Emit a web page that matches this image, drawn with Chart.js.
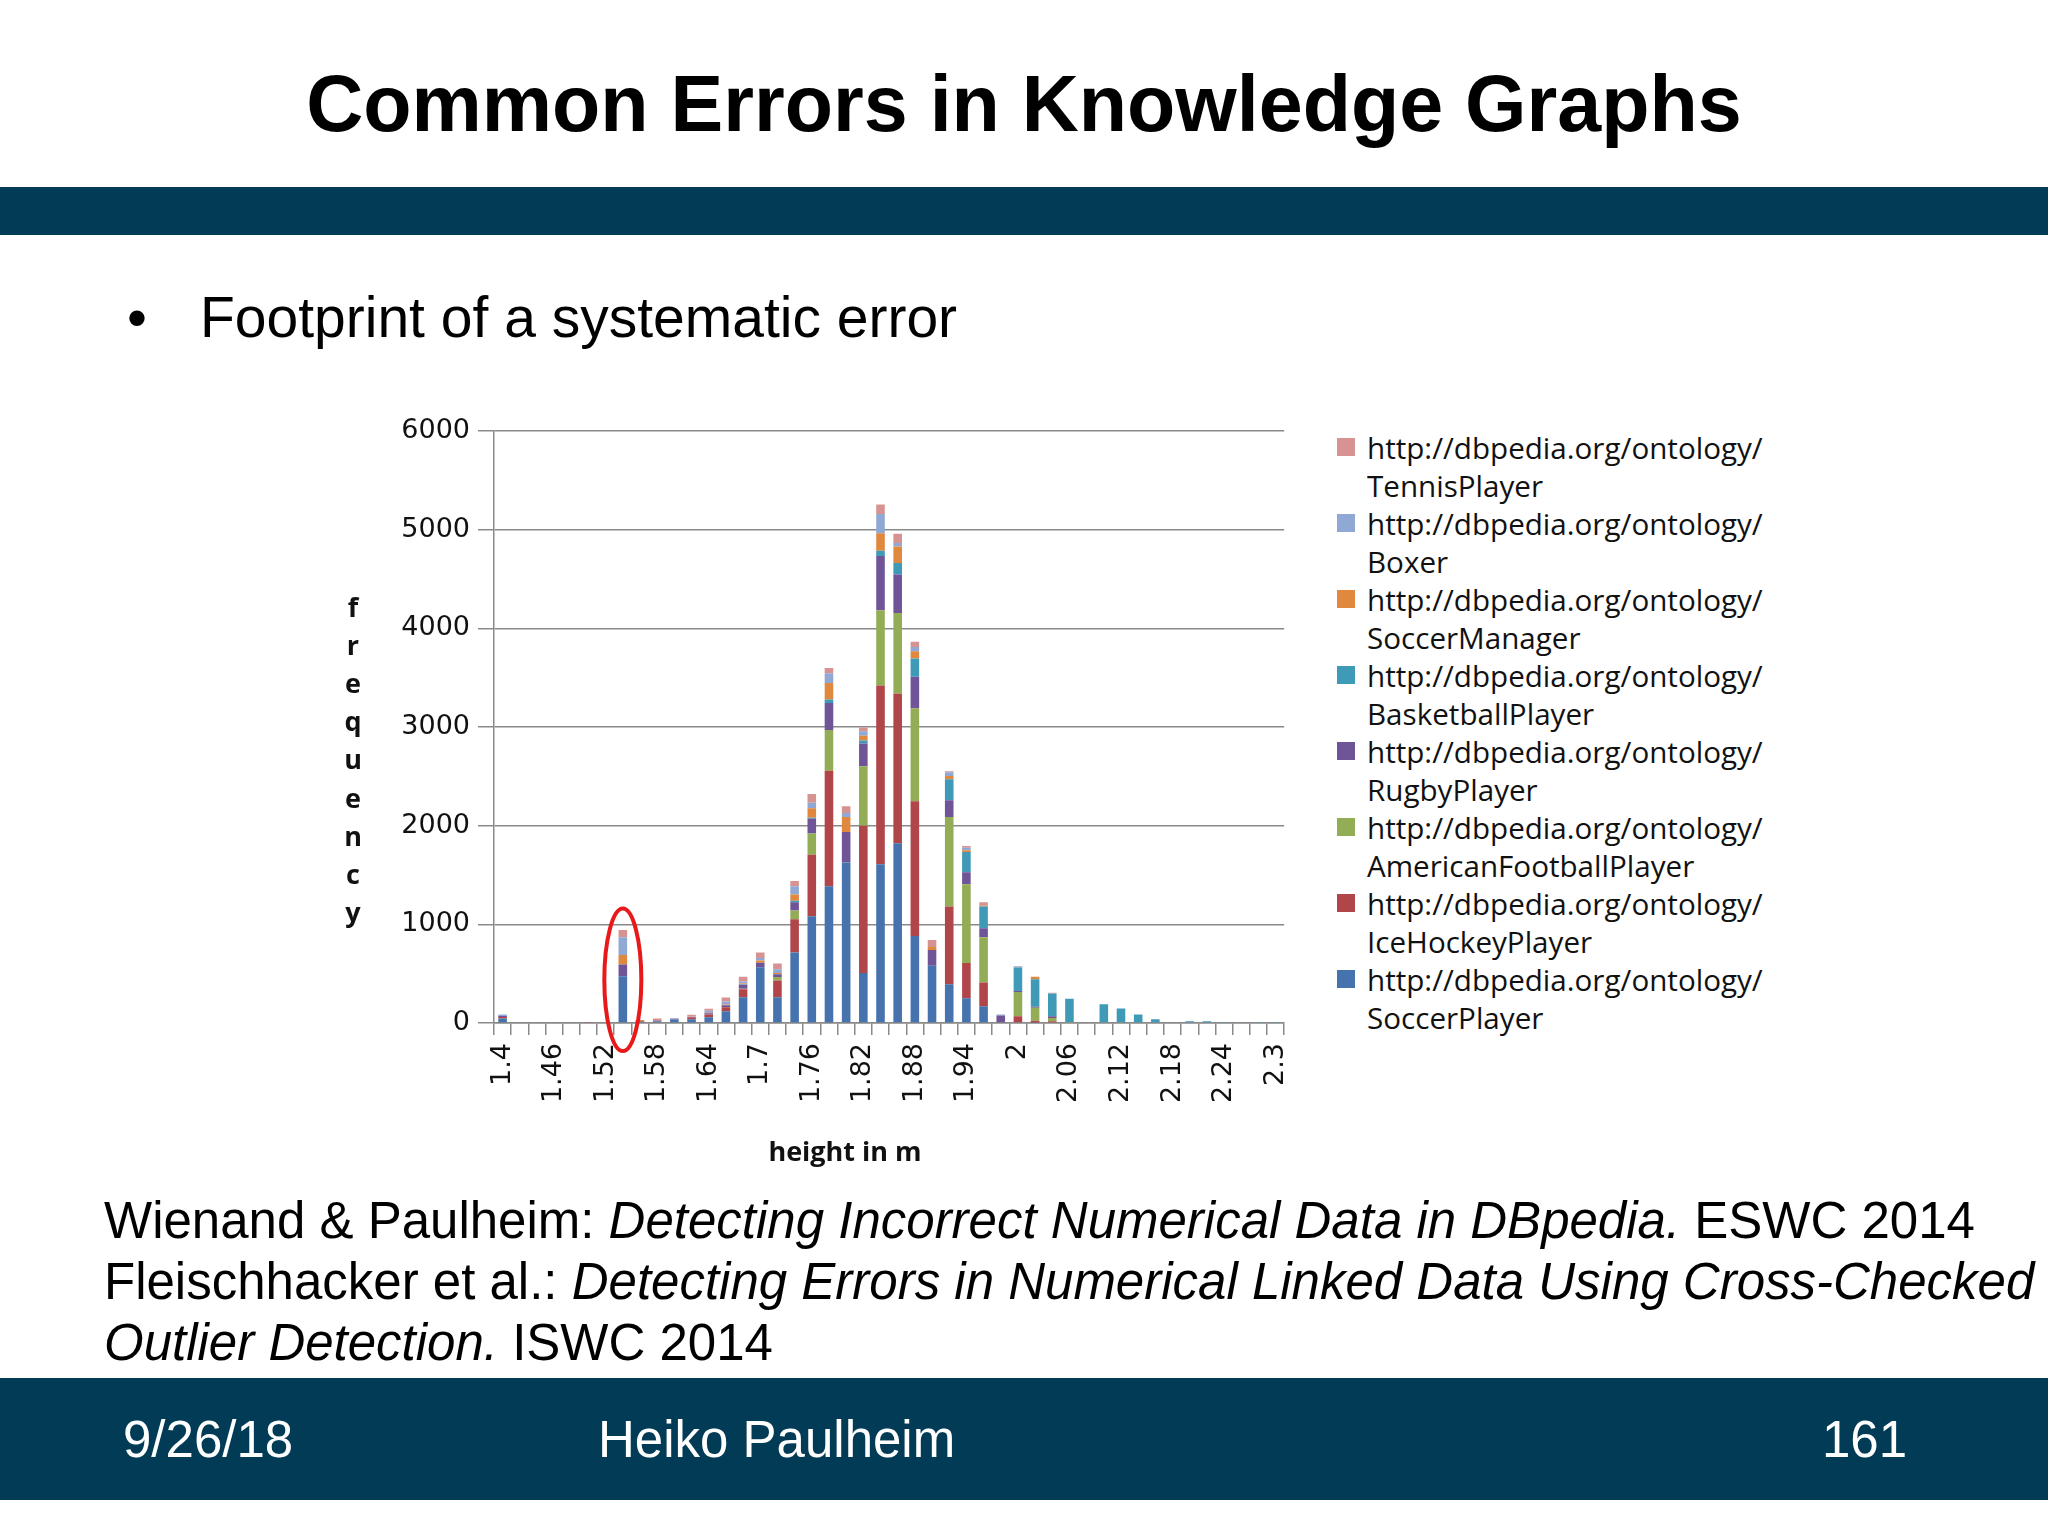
<!DOCTYPE html>
<html>
<head>
<meta charset="utf-8">
<title>Common Errors in Knowledge Graphs</title>
<script src="https://cdn.jsdelivr.net/npm/chart.js@4.4.1/dist/chart.umd.min.js"></script>
<style>
  body { margin: 0; background: #ffffff; }
  #slide { position: relative; width: 2048px; height: 1536px; background: #ffffff; overflow: hidden; font-family: "Liberation Sans", Arial, sans-serif; color: #000; }
  .abs { position: absolute; white-space: nowrap; line-height: 1; }
  #title { left: 0; width: 2048px; top: 64px; text-align: center; font-size: 79px; font-weight: bold; }
  .band { position: absolute; left: 0; width: 2048px; background: #023b56; }
  #bullet { left: 127px; top: 289px; font-size: 57px; }
  #bulletText { left: 200px; top: 289px; font-size: 57px; }
  #refs { left: 104px; top: 1190px; font-size: 51px; line-height: 61px; }
  .foot { top: 1414px; font-size: 51px; color: #ffffff; }
  #chartBox { position: absolute; left: 330px; top: 400px; width: 986px; height: 780px; }
  #legend { position: absolute; left: 1337px; top: 429px; font-family: "Open Sans", sans-serif; font-size: 29.6px; line-height: 38px; color: #111; white-space: nowrap; }
  .legend-item { position: relative; padding-left: 30px; height: 76px; }
  .swatch { position: absolute; left: 0; top: 9px; width: 18px; height: 18px; }
</style>
</head>
<body>
<div id="slide">
  <div id="title" class="abs">Common Errors in Knowledge Graphs</div>
  <div class="band" style="top:187px;height:48px;"></div>
  <div id="bullet" class="abs">&bull;</div>
  <div id="bulletText" class="abs">Footprint of a systematic error</div>

  <div id="chartBox"><canvas id="chart" width="986" height="780"></canvas></div>
  <div id="legend"></div>

  <div id="refs" class="abs">Wienand &amp; Paulheim: <i>Detecting Incorrect Numerical Data in DBpedia.</i> ESWC 2014<br>Fleischhacker et al.: <i>Detecting Errors in Numerical Linked Data Using Cross-Checked</i><br><i>Outlier Detection.</i> ISWC 2014</div>

  <div class="band" style="top:1378px;height:122px;"></div>
  <div class="abs foot" style="left:123px;">9/26/18</div>
  <div class="abs foot" style="left:598px;">Heiko Paulheim</div>
  <div class="abs foot" style="left:1822px;">161</div>
</div>

<script>
// Height bins (m), one bar per bin
var heights = ['1.4', '1.42', '1.44', '1.46', '1.48', '1.5', '1.52', '1.54', '1.56', '1.58',
  '1.6', '1.62', '1.64', '1.66', '1.68', '1.7', '1.72', '1.74', '1.76', '1.78',
  '1.8', '1.82', '1.84', '1.86', '1.88', '1.9', '1.92', '1.94', '1.96', '1.98',
  '2', '2.02', '2.04', '2.06', '2.08', '2.1', '2.12', '2.14', '2.16', '2.18',
  '2.2', '2.22', '2.24', '2.26', '2.28', '2.3'];

// only every third bin gets a label
var labelEvery = 3;

// y axis
var yMax = 6000;
var yStep = 1000;

// frequencies per class (stack order: bottom to top)
var soccerPlayer = [45, 0, 0, 0, 0, 0, 0, 475, 12, 17, 35, 38, 58, 120, 262, 565, 262, 715, 1083, 1385,
  1626, 508, 1609, 1822, 881, 580, 394, 252, 170, 0, 0, 5, 0, 0, 0, 0, 0, 0, 0, 0, 0, 0, 0, 0, 0, 0];
var iceHockeyPlayer = [15, 0, 0, 0, 0, 6, 0, 0, 8, 8, 0, 20, 27, 40, 80, 0, 170, 336, 621, 1172,
  0, 1491, 1811, 1516, 1367, 0, 788, 355, 241, 0, 68, 18, 17, 0, 0, 0, 0, 0, 0, 0, 0, 0, 0, 0, 0, 0];
var americanFootballPlayer = [0, 0, 0, 0, 0, 0, 0, 0, 0, 0, 0, 0, 0, 0, 5, 0, 34, 88, 217, 412,
  0, 604, 763, 817, 941, 0, 906, 799, 458, 0, 247, 132, 34, 10, 0, 0, 0, 0, 0, 0, 0, 0, 0, 0, 0, 0];
var rugbyPlayer = [10, 0, 0, 0, 0, 0, 0, 118, 0, 0, 8, 0, 15, 20, 40, 45, 27, 86, 149, 273,
  309, 231, 550, 391, 320, 160, 170, 121, 92, 75, 10, 10, 17, 0, 0, 0, 0, 0, 0, 0, 0, 0, 0, 0, 0, 0];
var basketballPlayer = [0, 0, 0, 0, 0, 0, 0, 0, 0, 0, 0, 0, 0, 0, 5, 0, 0, 15, 10, 36,
  0, 28, 53, 117, 185, 0, 213, 206, 220, 0, 237, 278, 231, 237, 0, 190, 146, 85, 37, 0, 17, 17, 4, 0, 4, 4];
var soccerManager = [0, 0, 0, 0, 0, 0, 0, 97, 10, 0, 0, 0, 5, 8, 8, 24, 14, 62, 96, 167,
  153, 50, 178, 167, 75, 30, 32, 18, 8, 0, 0, 27, 0, 0, 0, 0, 0, 0, 0, 0, 0, 0, 0, 0, 0, 0];
var boxer = [15, 0, 0, 0, 0, 0, 0, 180, 0, 5, 5, 5, 20, 30, 20, 25, 37, 83, 55, 99,
  40, 46, 195, 36, 43, 0, 39, 25, 0, 10, 10, 0, 0, 0, 0, 0, 0, 0, 0, 0, 0, 0, 0, 0, 0, 0];
var tennisPlayer = [0, 0, 0, 0, 0, 0, 0, 72, 0, 15, 0, 20, 20, 40, 50, 55, 58, 55, 89, 53,
  70, 36, 96, 92, 53, 70, 10, 18, 36, 0, 5, 0, 8, 0, 0, 0, 0, 0, 0, 0, 0, 0, 0, 0, 0, 0];

var classNames = ['SoccerPlayer', 'IceHockeyPlayer', 'AmericanFootballPlayer', 'RugbyPlayer',
  'BasketballPlayer', 'SoccerManager', 'Boxer', 'TennisPlayer'];
var classColors = ['#4672ad', '#b0464a', '#92ad55', '#6f5597', '#3f9ab8', '#e0883e', '#90a9d4', '#d69391'];
var prefix = 'http://dbpedia.org/ontology/';

// the outlier bin that is circled
var circledBin = 7;

var series = [soccerPlayer, iceHockeyPlayer, americanFootballPlayer, rugbyPlayer,
  basketballPlayer, soccerManager, boxer, tennisPlayer];

var datasets = series.map(function (values, i) {
  return {
    label: [prefix, classNames[i]],
    data: values,
    backgroundColor: classColors[i],
    borderWidth: 0,
    barPercentage: 0.5,
    categoryPercentage: 1
  };
});

var axisColor = '#8a8a8a';
var tickFont = { family: 'DejaVu Sans', size: 27 };

// axis titles and the red ellipse are drawn on top of the chart
var extrasPlugin = {
  id: 'extras',
  afterDraw: function (chart) {
    var ctx = chart.ctx;
    var area = chart.chartArea;
    var xs = chart.scales.x;
    var ys = chart.scales.y;

    ctx.save();
    ctx.fillStyle = '#111';
    ctx.font = 'bold 27px "Open Sans"';
    ctx.textAlign = 'center';
    ctx.textBaseline = 'middle';

    // vertical "frequency", one letter per line
    var word = 'frequency';
    for (var i = 0; i < word.length; i++) {
      ctx.fillText(word[i], area.left - 141, area.top + 178 + i * 38.2);
    }

    // x axis title
    ctx.fillText('height in m', area.left + 351, area.bottom + 130);

    // red ellipse round the outlier bar
    var cx = xs.getPixelForValue(circledBin);
    var top = ys.getPixelForValue(1160);
    var bottom = area.bottom + 28;
    ctx.beginPath();
    ctx.ellipse(cx, (top + bottom) / 2, 18.5, (bottom - top) / 2, 0, 0, Math.PI * 2);
    ctx.strokeStyle = '#e8191b';
    ctx.lineWidth = 4;
    ctx.stroke();
    ctx.restore();
  }
};

// legend as html next to the canvas, built from the chart's own legend items
function buildLegend(chart) {
  var box = document.getElementById('legend');
  box.innerHTML = '';
  var items = Chart.defaults.plugins.legend.labels.generateLabels(chart);
  items.reverse();
  items.forEach(function (item) {
    var row = document.createElement('div');
    row.className = 'legend-item';
    row.innerHTML = '<span class="swatch" style="background:' + item.fillStyle + '"></span>' +
      item.text.join('<br>');
    box.appendChild(row);
  });
}

var ctx = document.getElementById('chart').getContext('2d');
window.heightChart = new Chart(ctx, {
  type: 'bar',
  data: {
    labels: heights,
    datasets: datasets
  },
  options: {
    responsive: false,
    animation: false,
    layout: {
      padding: { top: 31, left: 0, right: 0, bottom: 0 }
    },
    plugins: {
      legend: { display: false },
      tooltip: { enabled: false }
    },
    scales: {
      x: {
        stacked: true,
        grid: {
          offset: true,
          drawOnChartArea: false,
          drawTicks: true,
          tickLength: 12,
          color: axisColor,
          lineWidth: 1.5
        },
        border: { color: axisColor, width: 1.5 },
        ticks: {
          autoSkip: false,
          maxRotation: 90,
          minRotation: 90,
          padding: 8,
          color: '#111',
          font: tickFont,
          callback: function (value, index) {
            return index % labelEvery === 0 ? this.getLabelForValue(value) : '';
          }
        },
        afterFit: function (scale) { scale.height = 157; }
      },
      y: {
        stacked: true,
        min: 0,
        max: yMax,
        grid: {
          color: axisColor,
          lineWidth: 1.5,
          tickLength: 16
        },
        border: { color: axisColor, width: 1.5 },
        ticks: {
          stepSize: yStep,
          padding: 8,
          color: '#111',
          font: tickFont,
          callback: function (value) { return String(value); }
        },
        afterFit: function (scale) { scale.width = 164; }
      }
    }
  },
  plugins: [extrasPlugin]
});

buildLegend(window.heightChart);
</script>
</body>
</html>
